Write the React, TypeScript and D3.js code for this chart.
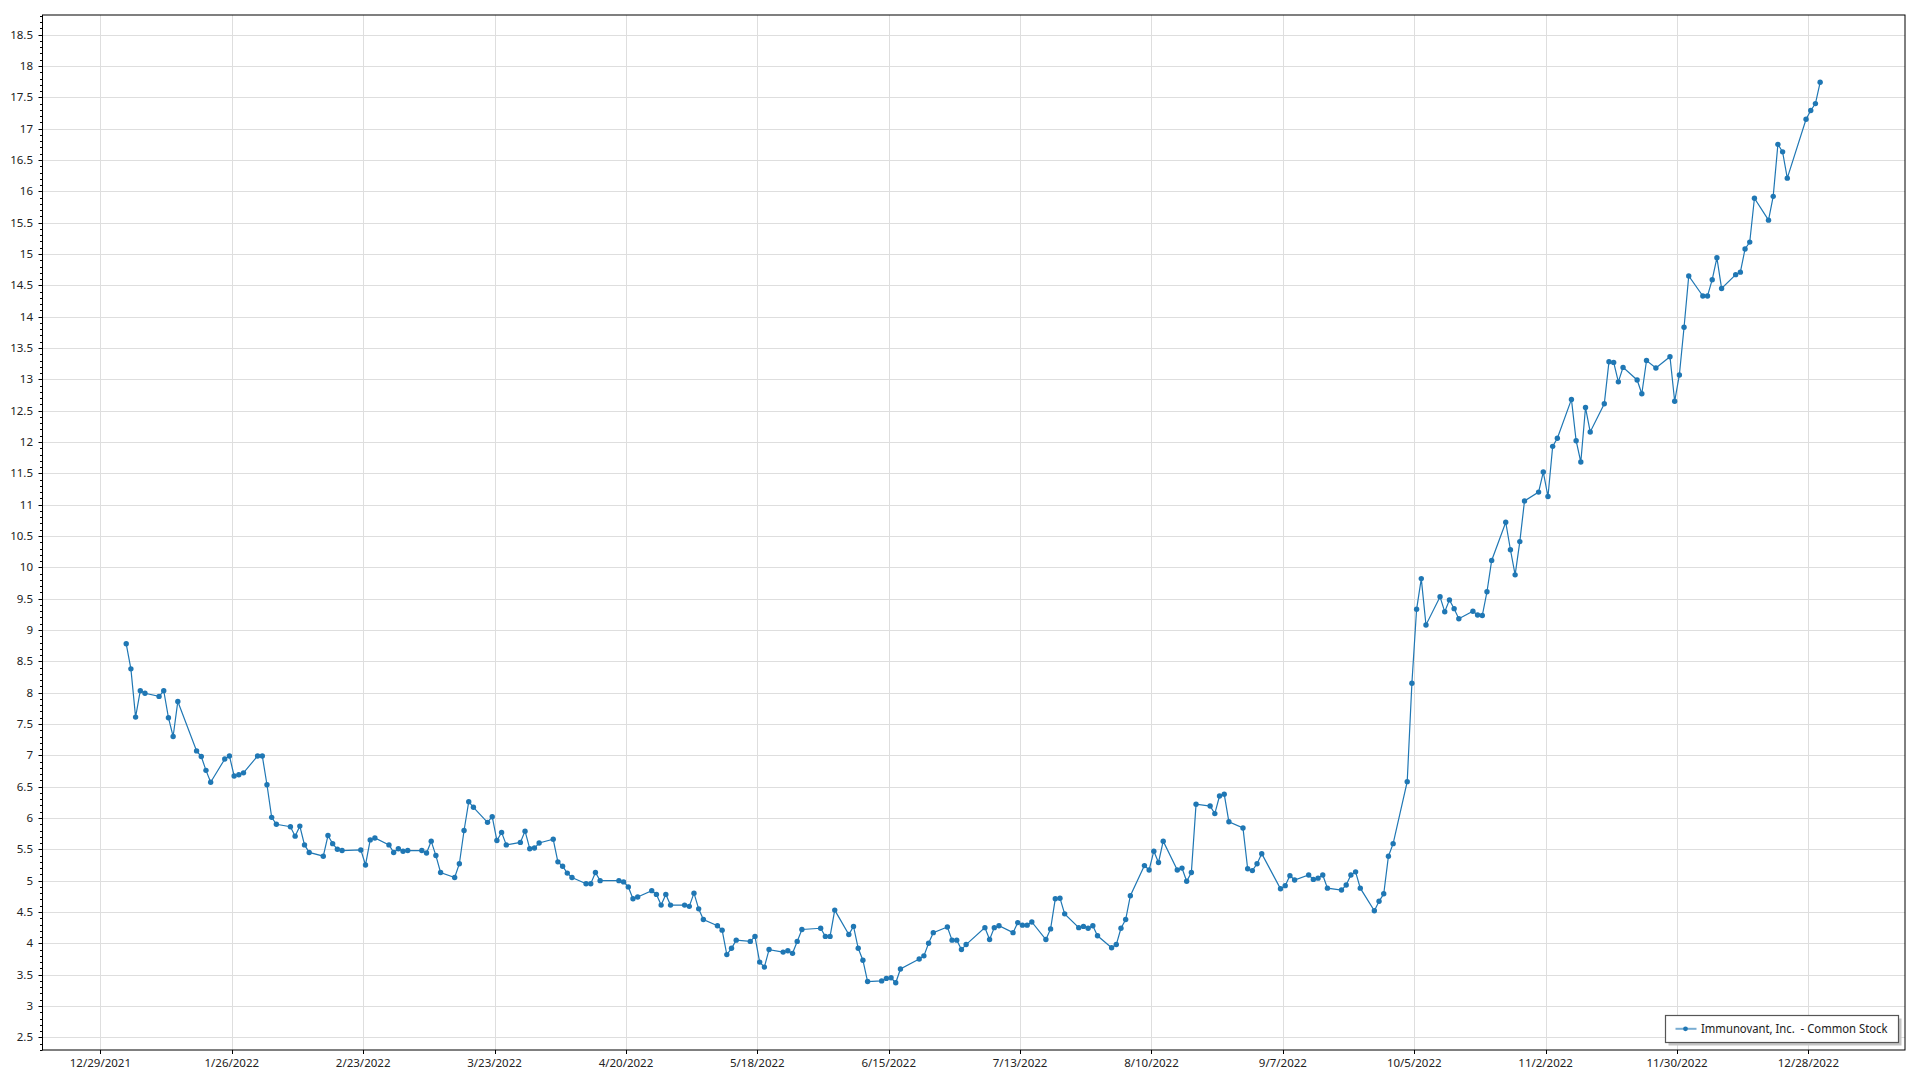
import React from "react";
import * as d3 from "d3";

// ---- Data ----
const seriesName = "Immunovant, Inc.  - Common Stock";

// Trading days of 2022, per month (Jan..Dec)
const tradingDays2022: number[][] = [
  [3, 4, 5, 6, 7, 10, 11, 12, 13, 14, 18, 19, 20, 21, 24, 25, 26, 27, 28, 31],
  [1, 2, 3, 4, 7, 8, 9, 10, 11, 14, 15, 16, 17, 18, 22, 23, 24, 25, 28],
  [1, 2, 3, 4, 7, 8, 9, 10, 11, 14, 15, 16, 17, 18, 21, 22, 23, 24, 25, 28, 29, 30, 31],
  [1, 4, 5, 6, 7, 8, 11, 12, 13, 14, 18, 19, 20, 21, 22, 25, 26, 27, 28, 29],
  [2, 3, 4, 5, 6, 9, 10, 11, 12, 13, 16, 17, 18, 19, 20, 23, 24, 25, 26, 27, 31],
  [1, 2, 3, 6, 7, 8, 9, 10, 13, 14, 15, 16, 17, 21, 22, 23, 24, 27, 28, 29, 30],
  [1, 5, 6, 7, 8, 11, 12, 13, 14, 15, 18, 19, 20, 21, 22, 25, 26, 27, 28, 29],
  [1, 2, 3, 4, 5, 8, 9, 10, 11, 12, 15, 16, 17, 18, 19, 22, 23, 24, 25, 26, 29, 30, 31],
  [1, 2, 6, 7, 8, 9, 12, 13, 14, 15, 16, 19, 20, 21, 22, 23, 26, 27, 28, 29, 30],
  [3, 4, 5, 6, 7, 10, 11, 12, 13, 14, 17, 18, 19, 20, 21, 24, 25, 26, 27, 28, 31],
  [1, 2, 3, 4, 7, 8, 9, 10, 11, 14, 15, 16, 17, 18, 21, 22, 23, 25, 28, 29, 30],
  [1, 2, 5, 6, 7, 8, 9, 12, 13, 14, 15, 16, 19, 20, 21, 22, 23, 27, 28, 29, 30],
];

// Closing prices, per month, aligned with tradingDays2022
const closes2022: number[][] = [
  [8.78, 8.38, 7.61, 8.03, 7.99, 7.94, 8.03, 7.6, 7.3, 7.86, 7.07, 6.98, 6.76, 6.57, 6.94, 6.99, 6.67, 6.69, 6.72, 6.99],
  [6.99, 6.53, 6.01, 5.9, 5.86, 5.71, 5.87, 5.57, 5.45, 5.39, 5.72, 5.59, 5.5, 5.48, 5.49, 5.25, 5.65, 5.68, 5.57],
  [5.45, 5.51, 5.47, 5.48, 5.48, 5.44, 5.63, 5.4, 5.13, 5.05, 5.27, 5.8, 6.26, 6.17, 5.93, 6.02, 5.64, 5.77, 5.57, 5.61, 5.79, 5.51, 5.52],
  [5.6, 5.66, 5.3, 5.23, 5.12, 5.05, 4.95, 4.95, 5.13, 5.0, 5.0, 4.98, 4.9, 4.71, 4.74, 4.84, 4.78, 4.61, 4.78, 4.61],
  [4.61, 4.59, 4.8, 4.55, 4.38, 4.28, 4.21, 3.82, 3.92, 4.05, 4.03, 4.11, 3.7, 3.62, 3.9, 3.86, 3.88, 3.84, 4.03, 4.22, 4.24],
  [4.11, 4.11, 4.53, 4.14, 4.27, 3.92, 3.73, 3.39, 3.4, 3.44, 3.45, 3.37, 3.59, 3.75, 3.8, 4.0, 4.17, 4.26, 4.05, 4.05, 3.9],
  [3.98, 4.25, 4.06, 4.25, 4.28, 4.17, 4.33, 4.29, 4.29, 4.34, 4.06, 4.23, 4.71, 4.72, 4.47, 4.25, 4.27, 4.24, 4.28, 4.12],
  [3.93, 3.98, 4.24, 4.38, 4.76, 5.24, 5.17, 5.47, 5.29, 5.63, 5.17, 5.2, 4.99, 5.13, 6.22, 6.19, 6.07, 6.35, 6.38, 5.94, 5.84, 5.19, 5.16],
  [5.27, 5.43, 4.87, 4.92, 5.08, 5.01, 5.09, 5.02, 5.04, 5.09, 4.88, 4.85, 4.93, 5.09, 5.14, 4.88, 4.52, 4.67, 4.79, 5.39, 5.59],
  [6.58, 8.15, 9.33, 9.82, 9.08, 9.53, 9.29, 9.48, 9.34, 9.18, 9.3, 9.24, 9.23, 9.61, 10.11, 10.72, 10.28, 9.88, 10.41, 11.06, 11.2],
  [11.52, 11.13, 11.93, 12.06, 12.68, 12.02, 11.68, 12.55, 12.16, 12.61, 13.28, 13.27, 12.96, 13.19, 12.99, 12.77, 13.3, 13.18, 13.36, 12.65, 13.07],
  [13.83, 14.65, 14.33, 14.33, 14.59, 14.94, 14.45, 14.67, 14.71, 15.08, 15.19, 15.89, 15.54, 15.92, 16.75, 16.63, 16.21, 17.15, 17.29, 17.4, 17.74],
];

const xTickLabels = [
  "12/29/2021", "1/26/2022", "2/23/2022", "3/23/2022", "4/20/2022", "5/18/2022", "6/15/2022",
  "7/13/2022", "8/10/2022", "9/7/2022", "10/5/2022", "11/2/2022", "11/30/2022", "12/28/2022",
];

const yTickValues = [
  2.5, 3, 3.5, 4, 4.5, 5, 5.5, 6, 6.5, 7, 7.5, 8, 8.5, 9, 9.5, 10, 10.5,
  11, 11.5, 12, 12.5, 13, 13.5, 14, 14.5, 15, 15.5, 16, 16.5, 17, 17.5, 18, 18.5,
];

// ---- Layout ----
const W = 1920;
const H = 1080;
const plot = { left: 42.5, right: 1905, top: 15, bottom: 1050 };
const FONT = "'Segoe UI', 'Noto Sans', 'Open Sans', sans-serif";
const LINE_COLOR = "#1f77b4";

const parseDate = d3.utcParse("%m/%d/%Y");

export default function App() {
  const x = d3
    .scaleUtc()
    .domain([parseDate("12/29/2021") as Date, parseDate("12/28/2022") as Date])
    .range([100.4, 1808.4]);
  const y = d3.scaleLinear().domain([2.5, 18]).range([1037.3, 66]);

  type Pt = { date: Date; value: number };
  const points: Pt[] = [];
  tradingDays2022.forEach((days, m) => {
    days.forEach((d, i) => {
      points.push({ date: new Date(Date.UTC(2022, m, d, 12)), value: closes2022[m][i] });
    });
  });

  const line = d3
    .line<Pt>()
    .x((p) => x(p.date))
    .y((p) => y(p.value));

  const yMin = y.invert(plot.bottom);
  const yMax = y.invert(plot.top);
  const minorTicks = d3
    .range(Math.ceil(yMin * 10), Math.floor(yMax * 10) + 1)
    .map((k) => k / 10)
    .filter((v) => Math.abs(v * 2 - Math.round(v * 2)) > 1e-6);

  const xTicks = xTickLabels.map((s) => ({ label: s, date: parseDate(s) as Date }));

  const legend = { x: 1665.5, y: 1015.5, w: 233, h: 27 };

  return (
    <svg
      width={W}
      height={H}
      style={{ position: "fixed", left: 0, top: 0, background: "#fff" }}
      fontFamily={FONT}
    >
      <rect x={0} y={0} width={W} height={H} fill="#fff" />
      <defs>
        <clipPath id="plotClip">
          <rect x={plot.left} y={plot.top} width={plot.right - plot.left} height={plot.bottom - plot.top} />
        </clipPath>
      </defs>

      {/* gridlines */}
      <g stroke="#dedede" strokeWidth={1} clipPath="url(#plotClip)">
        {yTickValues.map((v) => (
          <line key={"gy" + v} x1={plot.left} x2={plot.right} y1={Math.round(y(v)) + 0.5} y2={Math.round(y(v)) + 0.5} />
        ))}
        {xTicks.map((t) => (
          <line key={"gx" + t.label} x1={Math.round(x(t.date)) + 0.5} x2={Math.round(x(t.date)) + 0.5} y1={plot.top} y2={plot.bottom} />
        ))}
      </g>

      {/* series */}
      <g clipPath="url(#plotClip)">
        <path d={line(points) || ""} fill="none" stroke={LINE_COLOR} strokeWidth={1.2} />
        {points.map((p, i) => (
          <circle key={i} cx={x(p.date)} cy={y(p.value)} r={2.7} fill={LINE_COLOR} />
        ))}
      </g>

      {/* frame */}
      <rect
        x={plot.left}
        y={plot.top}
        width={plot.right - plot.left}
        height={plot.bottom - plot.top}
        fill="none"
        stroke="#000"
        strokeWidth={1}
      />

      {/* axis ticks */}
      <g stroke="#000" strokeWidth={1}>
        {yTickValues.map((v) => (
          <line key={"ty" + v} x1={plot.left - 4} x2={plot.left} y1={Math.round(y(v)) + 0.5} y2={Math.round(y(v)) + 0.5} />
        ))}
        {minorTicks.map((v) => (
          <line key={"my" + v} x1={plot.left - 2.5} x2={plot.left} y1={Math.round(y(v)) + 0.5} y2={Math.round(y(v)) + 0.5} />
        ))}
        {xTicks.map((t) => (
          <line key={"tx" + t.label} x1={Math.round(x(t.date)) + 0.5} x2={Math.round(x(t.date)) + 0.5} y1={plot.bottom} y2={plot.bottom + 4} />
        ))}
      </g>

      <g fontSize={11.5} fill="#222">
        {yTickValues.map((v) => (
          <text key={"ly" + v} x={33} y={y(v)} dy="0.35em" textAnchor="end">
            {String(v)}
          </text>
        ))}
        {xTicks.map((t) => (
          <text key={"lx" + t.label} x={x(t.date)} y={1067} textAnchor="middle">
            {t.label}
          </text>
        ))}
      </g>

      {/* legend */}
      <g>
        <rect x={legend.x + 3} y={legend.y + 3} width={legend.w} height={legend.h} fill="#c4c4c4" />
        <rect x={legend.x} y={legend.y} width={legend.w} height={legend.h} fill="#fff" stroke="#555" strokeWidth={1.2} />
        <line x1={legend.x + 10} x2={legend.x + 31} y1={legend.y + 13.3} y2={legend.y + 13.3} stroke={LINE_COLOR} strokeOpacity={0.6} strokeWidth={2} />
        <circle cx={legend.x + 20} cy={legend.y + 13.3} r={2.4} fill={LINE_COLOR} />
        <text
          x={legend.x + 35.5}
          y={legend.y + 13.5}
          dy="0.35em"
          fontSize={12}
          fill="#222"
          textLength={186.5}
          lengthAdjust="spacingAndGlyphs"
          style={{ whiteSpace: "pre" }}
        >
          {seriesName}
        </text>
      </g>
    </svg>
  );
}
